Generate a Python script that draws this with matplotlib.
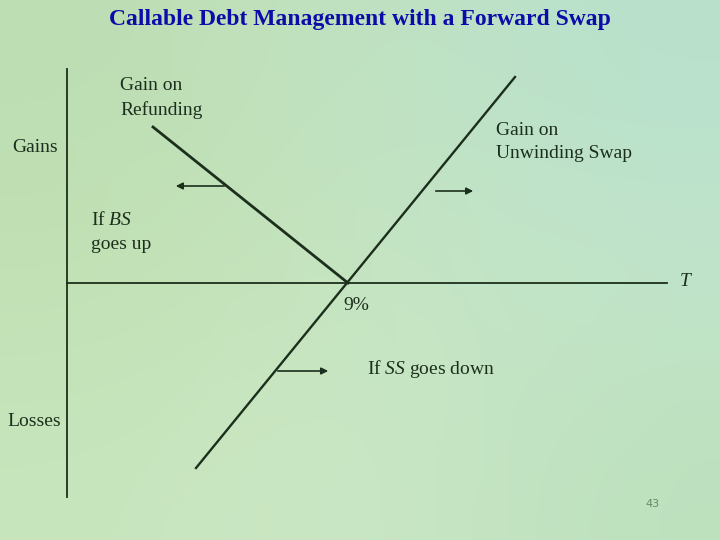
'''
Slide diagram: callable debt management with a forward swap.
Gains/losses against the rate T, with the refunding and swap payoff lines.
'''

import numpy as np
import matplotlib.pyplot as plt

# diagram geometry in slide pixel units (x right, y down)
strike = (348, 283)                    # where both lines cross the T axis (9%)
refund_x = [153, 348]                  # gain on refunding line
refund_y = [127, 283]
swap_x = [196, 515]                    # gain on unwinding swap line
swap_y = [468, 77]
vaxis_x = [67, 67]
vaxis_y = [69, 497]
haxis_x = [67, 667]
haxis_y = [283, 283]

# arrows: (tail, head)
arrows = [((227, 186), (173, 186)),
          ((433, 191), (476, 191)),
          ((275, 371), (331, 371))]

ink = '#1c2f1c'
serif = ['Liberation Serif', 'DejaVu Serif']

# italic math letters in the same serif face
plt.rcParams['mathtext.fontset'] = 'custom'
plt.rcParams['mathtext.rm'] = 'Liberation Serif'
plt.rcParams['mathtext.it'] = 'Liberation Serif:italic'

fig = plt.figure(figsize=(7.2, 5.4), dpi=100)
ax = fig.add_axes([0, 0, 1, 1])

# mottled green backdrop, approximated by a soft gradient
bg = np.array([[[0.74, 0.87, 0.70], [0.76, 0.89, 0.76], [0.72, 0.88, 0.80]],
               [[0.76, 0.88, 0.70], [0.78, 0.90, 0.76], [0.76, 0.90, 0.80]],
               [[0.78, 0.90, 0.74], [0.80, 0.91, 0.78], [0.74, 0.88, 0.74]]])
ax.imshow(bg, extent=(0, 720, 540, 0), interpolation='bicubic', aspect='auto')

ax.plot(vaxis_x, vaxis_y, color=ink, lw=1.3)
ax.plot(haxis_x, haxis_y, color=ink, lw=1.3)
ax.plot(refund_x, refund_y, color=ink, lw=2.0)
ax.plot(swap_x, swap_y, color=ink, lw=1.7)

for tail, head in arrows:
    ax.annotate('', xy=head, xytext=tail,
                arrowprops=dict(arrowstyle='-|>', color=ink, lw=1.2,
                                mutation_scale=10))

txt = dict(color=ink, family=serif, fontsize=14, va='center', ha='left',
           linespacing=1.5)
ax.text(120, 98, 'Gain on\nRefunding', **txt)
ax.text(12, 147, 'Gains', **txt)
ax.text(496, 142, 'Gain on\nUnwinding Swap', **txt)
ax.text(91, 232, 'If $\\it{BS}$\ngoes up', **txt)
ax.text(343, 306, '9%', **txt)
ax.text(367, 369, 'If $\\it{SS}$ goes down', **txt)
ax.text(7, 421, 'Losses', **txt)
ax.text(680, 282, 'T', style='italic', **txt)

ax.text(645, 504, '43', color='#6b8a6b', family='DejaVu Sans', fontsize=8,
        ha='left', va='center')

ax.text(360, 20, 'Callable Debt Management with a Forward Swap',
        color='#0c0ca8', family=serif, fontsize=17, fontweight='bold',
        ha='center', va='center')

ax.set_xlim(0, 720)
ax.set_ylim(540, 0)
ax.axis('off')

plt.savefig('out.png', dpi=100)
